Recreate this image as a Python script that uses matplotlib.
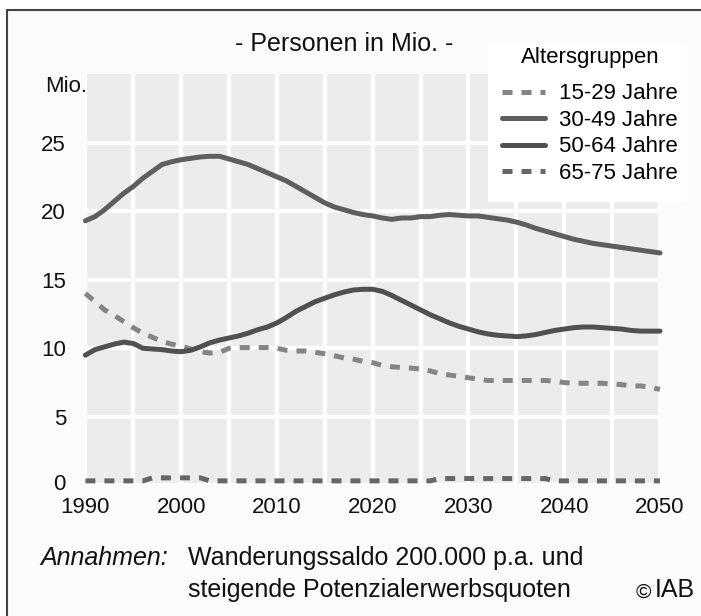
import matplotlib
matplotlib.use("Agg")
import matplotlib.pyplot as plt
import matplotlib.transforms as mtransforms
import numpy as np
from matplotlib.patches import Rectangle

plt.rcParams['font.family'] = ['Liberation Sans', 'DejaVu Sans']

years = list(range(1990, 2051))

age_15_29 = [14.0, 13.4, 12.8, 12.4, 11.95, 11.5, 11.1, 10.8, 10.5, 10.3,
             10.15, 9.95, 9.75, 9.65, 9.7, 10.0, 10.05, 10.05, 10.05, 10.05,
             10.0, 9.85, 9.8, 9.8, 9.7, 9.6, 9.45, 9.3, 9.2, 9.05,
             8.95, 8.75, 8.65, 8.6, 8.55, 8.5, 8.35, 8.15, 8.05, 7.95,
             7.85, 7.75, 7.65, 7.65, 7.65, 7.65, 7.65, 7.65, 7.65, 7.6,
             7.5, 7.45, 7.45, 7.45, 7.45, 7.4, 7.35, 7.25, 7.25, 7.15, 7.0]

age_30_49 = [19.3, 19.6, 20.1, 20.7, 21.3, 21.8, 22.4, 22.9, 23.4, 23.6,
             23.75, 23.85, 23.95, 24.0, 24.0, 23.8, 23.6, 23.4, 23.1, 22.8,
             22.5, 22.2, 21.8, 21.4, 21.0, 20.6, 20.3, 20.1, 19.9, 19.75,
             19.65, 19.5, 19.4, 19.5, 19.5, 19.6, 19.6, 19.7, 19.75, 19.7,
             19.65, 19.65, 19.55, 19.45, 19.35, 19.2, 19.0, 18.75, 18.55, 18.35,
             18.15, 17.95, 17.8, 17.65, 17.55, 17.45, 17.35, 17.25, 17.15, 17.05, 16.95]

age_50_64 = [9.5, 9.9, 10.1, 10.3, 10.45, 10.35, 10.0, 9.95, 9.9, 9.8,
             9.75, 9.85, 10.1, 10.4, 10.6, 10.75, 10.9, 11.1, 11.35, 11.55,
             11.85, 12.25, 12.7, 13.05, 13.4, 13.65, 13.9, 14.1, 14.25, 14.3,
             14.3, 14.15, 13.85, 13.5, 13.15, 12.8, 12.45, 12.15, 11.85, 11.6,
             11.4, 11.2, 11.05, 10.95, 10.9, 10.85, 10.9, 11.0, 11.15, 11.3,
             11.4, 11.5, 11.55, 11.55, 11.5, 11.45, 11.4, 11.3, 11.25, 11.25, 11.25]

age_65_75 = [0.33, 0.33, 0.33, 0.33, 0.33, 0.33, 0.33, 0.55, 0.55, 0.55,
             0.55, 0.55, 0.55, 0.33, 0.33, 0.33, 0.33, 0.33, 0.33, 0.33,
             0.33, 0.33, 0.33, 0.33, 0.33, 0.33, 0.33, 0.33, 0.33, 0.33,
             0.33, 0.33, 0.33, 0.33, 0.33, 0.33, 0.33, 0.5, 0.5, 0.5,
             0.5, 0.5, 0.5, 0.5, 0.5, 0.5, 0.5, 0.5, 0.5, 0.33,
             0.33, 0.33, 0.33, 0.33, 0.33, 0.33, 0.33, 0.33, 0.33, 0.33, 0.33]

series_labels = ["15-29 Jahre", "30-49 Jahre", "50-64 Jahre", "65-75 Jahre"]
x_ticks = [1990, 2000, 2010, 2020, 2030, 2040, 2050]
y_ticks = [0, 5, 10, 15, 20, 25]

W, H = 701, 616
fig = plt.figure(figsize=(W / 100, H / 100), dpi=100, facecolor='white')

# outer frame
frame = Rectangle((7 / W, -0.05), 1.1, 1 - 10 / H + 0.05,
                  transform=fig.transFigure, facecolor='#fbfbfb',
                  edgecolor='#444444', linewidth=1.5, zorder=-10)
fig.patches.append(frame)

ax = fig.add_axes([85.4 / W, (H - 485.4) / H, (660 - 85.4) / W, (485.4 - 74) / H])
ax.set_zorder(1)
ax.set_facecolor('#ececec')
for s in ax.spines.values():
    s.set_visible(False)

ax.set_xlim(1990, 2050)
ax.set_ylim(0, 30)
ax.set_xticks(np.arange(1990, 2051, 5), minor=True)
ax.set_xticks(x_ticks)
ax.set_xticklabels([str(t) for t in x_ticks])
ax.set_yticks(y_ticks)
ax.set_yticklabels([str(t) for t in y_ticks])
ax.tick_params(axis='both', which='both', length=0, labelsize=16, colors='#111111')
ax.tick_params(axis='x', pad=8)
ax.tick_params(axis='y', pad=14)
ax.grid(True, which='both', axis='x', color='white', linewidth=3)
ax.grid(True, which='major', axis='y', color='white', linewidth=3)
ax.set_axisbelow(True)

# the "0" label sits slightly above its gridline in the reference
zero_lbl = ax.get_yticklabels()[0]
zero_lbl.set_transform(zero_lbl.get_transform() +
                       mtransforms.ScaledTranslation(0, 3 / 100, fig.dpi_scale_trans))

lw = 3.6
l1, = ax.plot(years, age_15_29, color='#858585', linewidth=lw, dashes=(2, 1.8),
              dash_capstyle='butt')
l2, = ax.plot(years, age_30_49, color='#5e5e5e', linewidth=lw, solid_capstyle='round')
l3, = ax.plot(years, age_50_64, color='#505050', linewidth=lw, solid_capstyle='round')
l4, = ax.plot(years, age_65_75, color='#666666', linewidth=lw, dashes=(2, 1.8),
              dash_capstyle='butt')
for l in (l1, l2, l3, l4):
    l.set_clip_on(False)

# legend box background
fig.patches.append(Rectangle((488 / W, 1 - 202 / H), (687 - 488) / W, (202 - 44) / H,
                             transform=fig.transFigure, facecolor='white',
                             edgecolor='none', zorder=2))

leg = fig.legend([l1, l2, l3, l4], series_labels, title="Altersgruppen",
                 loc='upper left', bbox_to_anchor=(502 / W, 1 - 47 / H),
                 bbox_transform=fig.transFigure, fontsize=16, title_fontsize=16,
                 frameon=False, handlelength=1.95, handletextpad=0.62,
                 labelspacing=0.25, borderpad=0, borderaxespad=0)
leg.set_zorder(3)
leg._legend_box.sep = 11

fig.text(344 / W, 1 - 44 / H, "- Personen in Mio. -", ha='center', va='center',
         fontsize=18, color='#111111')
fig.text(45 / W, 1 - 86 / H, "Mio.", ha='left', va='center', fontsize=16, color='#111111')

fig.text(40 / W, 1 - 558 / H, "Annahmen:", ha='left', va='center', fontsize=18,
         style='italic', color='#111111')
fig.text(188 / W, 1 - 558 / H, "Wanderungssaldo 200.000 p.a. und", ha='left',
         va='center', fontsize=18, color='#111111')
fig.text(188 / W, 1 - 590 / H, "steigende Potenzialerwerbsquoten", ha='left',
         va='center', fontsize=18, color='#111111')
fig.text(695 / W, 1 - 590 / H, "IAB", ha='right', va='center', fontsize=18, color='#111111')
fig.text(651 / W, 1 - 592 / H, "©", ha='right', va='center', fontsize=15, color='#111111')

fig.savefig("out.png", dpi=100, facecolor=fig.get_facecolor())
